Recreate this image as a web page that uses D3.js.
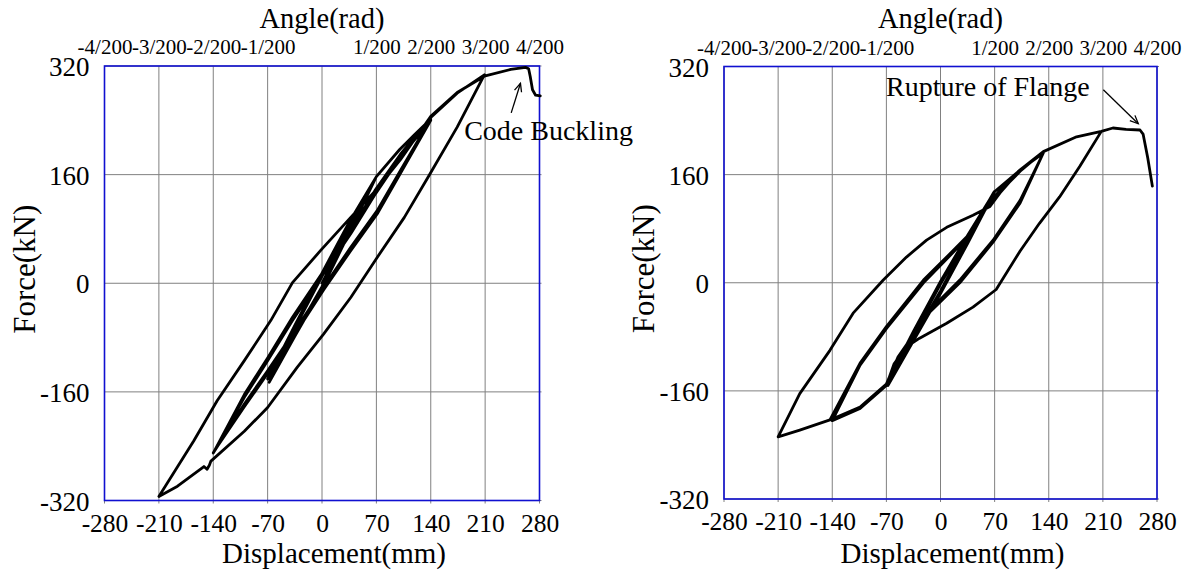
<!DOCTYPE html>
<html>
<head>
<meta charset="utf-8">
<script src="https://cdn.jsdelivr.net/npm/d3@7"></script>
<style>
  html, body { margin: 0; padding: 0; background: #fff; }
  svg { display: block; }
  text { font-family: "Liberation Serif", "Times New Roman", serif; fill: #000; }
</style>
</head>
<body>
<svg id="chart" width="1194" height="572"></svg>
<script>
// ---------------- data ----------------
const dispTicks = [-280, -210, -140, -70, 0, 70, 140, 210, 280];
const forceTicks = [-320, -160, 0, 160, 320];
const angleTickValues = [-280, -210, -140, -70, 70, 140, 210, 280];
const angleTickLabels = ["-4/200", "-3/200", "-2/200", "-1/200", "1/200", "2/200", "3/200", "4/200"];

const xTitle = "Displacement(mm)";
const yTitle = "Force(kN)";
const topTitle = "Angle(rad)";

// Specimen 1 (left): [displacement mm, force kN]
const leftCurve = [
  [0, 0], [35, 78], [69, 155],
  [35, 78], [0, -5], [-35, -75], [-70, -141],
  [-35, -62], [0, 15], [35, 90], [69, 155],
  [35, 74], [0, -8], [-35, -78], [-68, -146],
  [-35, -66], [0, 10], [35, 86], [70, 157],
  [100, 197], [120, 220], [140, 242],
  [101, 166], [71, 107], [37, 53], [2, -6], [-32, -65], [-70, -129], [-100, -178], [-140, -250],
  [-100, -168], [-70, -114], [-38, -55], [2, 14], [37, 73], [69, 132], [101, 186], [140, 240],
  [101, 162], [71, 102], [37, 48], [2, -10], [-32, -70], [-70, -133], [-100, -182], [-138, -246],
  [-100, -164], [-70, -110], [-38, -50], [2, 18], [37, 78], [69, 138], [101, 190], [140, 244],
  [174, 280], [209, 307],
  [174, 230], [138, 159], [106, 97], [71, 38], [37, -21], [2, -75], [-32, -124], [-70, -183],
  [-100, -218], [-143, -262], [-145, -268], [-148, -274], [-152, -270], [-186, -299], [-210, -314],
  [-165, -232], [-135, -173], [-100, -114], [-66, -55], [-38, 1], [-2, 48], [37, 97], [67, 134],
  [101, 182], [140, 246], [174, 281], [209, 305],
  [243, 315], [262, 318], [266, 316], [268, 305], [271, 285], [275, 277], [281, 276]
];

// Specimen 2 (right): [displacement mm, force kN]
const rightCurve = [
  [0, 0], [35, 68], [70, 135],
  [35, 62], [0, -12], [-35, -82], [-70, -150],
  [-35, -72], [0, 2], [35, 70], [70, 135],
  [35, 58], [0, -16], [-35, -86], [-68, -152],
  [-35, -76], [0, -2], [35, 66], [69, 134],
  [103, 167], [133, 192],
  [103, 122], [68, 63], [25, 4], [-18, -45], [-40, -85], [-55, -110], [-70, -150], [-104, -184], [-143, -203],
  [-104, -119], [-70, -65], [-22, 4], [8, 38], [34, 68], [59, 113], [77, 137], [103, 167], [133, 192],
  [103, 118], [68, 60], [25, 0], [-18, -48], [-40, -90], [-55, -115], [-70, -152], [-104, -186], [-140, -204],
  [-104, -122], [-70, -68], [-22, 0], [8, 35], [34, 66], [59, 110], [77, 135], [103, 165], [133, 194],
  [176, 216], [208, 224],
  [180, 172], [154, 127], [128, 88], [103, 47], [72, -10], [42, -36], [8, -60], [-27, -82], [-44, -95],
  [-60, -120], [-70, -152], [-104, -184], [-143, -203], [-182, -218], [-210, -228],
  [-182, -164], [-143, -100], [-113, -45], [-74, 4], [-44, 38], [-18, 63], [8, 82], [42, 100], [64, 113],
  [77, 133], [103, 167], [133, 194], [176, 216], [208, 224],
  [223, 229], [240, 227], [258, 226], [262, 220], [268, 185], [274, 143]
];

// annotations: text anchor and arrow tail/head in data units
const leftNote = { text: "Code Buckling", at: [183, 211], tail: [243.6, 251], head: [255.5, 294.5] };
const rightNote = { text: "Rupture of Flange", at: [-70.5, 277], tail: [210.6, 285.5], head: [255.8, 235.3] };

// ---------------- drawing ----------------
const svg = d3.select("#chart");

const panels = [
  { left: 104.5, right: 539.5, top: 66, bottom: 500.5, curve: leftCurve, note: leftNote },
  { left: 724, right: 1157, top: 66.5, bottom: 499, curve: rightCurve, note: rightNote }
];

panels.forEach(p => {
  const x = d3.scaleLinear().domain([-280, 280]).range([p.left, p.right]);
  const y = d3.scaleLinear().domain([-320, 320]).range([p.bottom, p.top]);
  const g = svg.append("g");

  // grid
  g.selectAll("line.vg").data(dispTicks).join("line")
    .attr("x1", d => x(d)).attr("x2", d => x(d))
    .attr("y1", p.top).attr("y2", p.bottom + 3)
    .attr("stroke", "#808080").attr("stroke-width", 1);
  g.selectAll("line.hg").data(forceTicks).join("line")
    .attr("x1", p.left).attr("x2", p.right + 2)
    .attr("y1", d => y(d)).attr("y2", d => y(d))
    .attr("stroke", "#808080").attr("stroke-width", 1);

  // bottom axis
  const xb = g.append("g").attr("transform", `translate(0,${p.bottom})`)
    .call(d3.axisBottom(x).tickValues(dispTicks).tickSize(0).tickPadding(13).tickFormat(d => String(d)));
  xb.select(".domain").remove();
  xb.selectAll("text").attr("font-size", 25.5).attr("font-family", "Liberation Serif");

  // left axis
  const yl = g.append("g").attr("transform", `translate(${p.left},0)`)
    .call(d3.axisLeft(y).tickValues(forceTicks).tickSize(0).tickPadding(15).tickFormat(d => String(d)));
  yl.select(".domain").remove();
  yl.selectAll("text").attr("font-size", 27).attr("dy", "0.36em").attr("font-family", "Liberation Serif");

  // top axis (angle)
  const xt = g.append("g").attr("transform", `translate(0,${p.top})`)
    .call(d3.axisTop(x).tickValues(angleTickValues).tickSize(0).tickPadding(12)
      .tickFormat((d, i) => angleTickLabels[i]));
  xt.select(".domain").remove();
  xt.selectAll("text").attr("font-size", 21).attr("font-family", "Liberation Serif");

  // border
  g.append("rect")
    .attr("x", p.left).attr("y", p.top)
    .attr("width", p.right - p.left).attr("height", p.bottom - p.top)
    .attr("fill", "none").attr("stroke", "#1010d0").attr("stroke-width", 1.6);

  // titles
  g.append("text").attr("x", (p.left + p.right) / 2).attr("y", 28)
    .attr("text-anchor", "middle").attr("font-size", 28.5).text(topTitle);
  g.append("text").attr("x", (p.left + p.right) / 2 + 12).attr("y", 563)
    .attr("text-anchor", "middle").attr("font-size", 29).text(xTitle);
  g.append("text")
    .attr("transform", `translate(${p.left - 70},${(p.top + p.bottom) / 2 - 14}) rotate(-90)`)
    .attr("text-anchor", "middle").attr("font-size", 31).text(yTitle);

  // curve
  const line = d3.line().x(d => x(d[0])).y(d => y(d[1]));
  g.append("path").datum(p.curve)
    .attr("d", line)
    .attr("fill", "none").attr("stroke", "#000").attr("stroke-width", 2.8)
    .attr("stroke-linejoin", "round").attr("stroke-linecap", "round");

  // annotation
  const n = p.note;
  g.append("text").attr("x", x(n.at[0])).attr("y", y(n.at[1]))
    .attr("font-size", 28).text(n.text);
  const x1 = x(n.tail[0]), y1 = y(n.tail[1]), x2 = x(n.head[0]), y2 = y(n.head[1]);
  g.append("line").attr("x1", x1).attr("y1", y1).attr("x2", x2).attr("y2", y2)
    .attr("stroke", "#000").attr("stroke-width", 1.3);
  const ang = Math.atan2(y2 - y1, x2 - x1), L = 9, spread = 0.42;
  const hp = [
    [x2 - L * Math.cos(ang - spread), y2 - L * Math.sin(ang - spread)],
    [x2, y2],
    [x2 - L * Math.cos(ang + spread), y2 - L * Math.sin(ang + spread)]
  ];
  g.append("path").attr("d", d3.line()(hp))
    .attr("fill", "none").attr("stroke", "#000").attr("stroke-width", 1.3);
});
</script>
</body>
</html>
